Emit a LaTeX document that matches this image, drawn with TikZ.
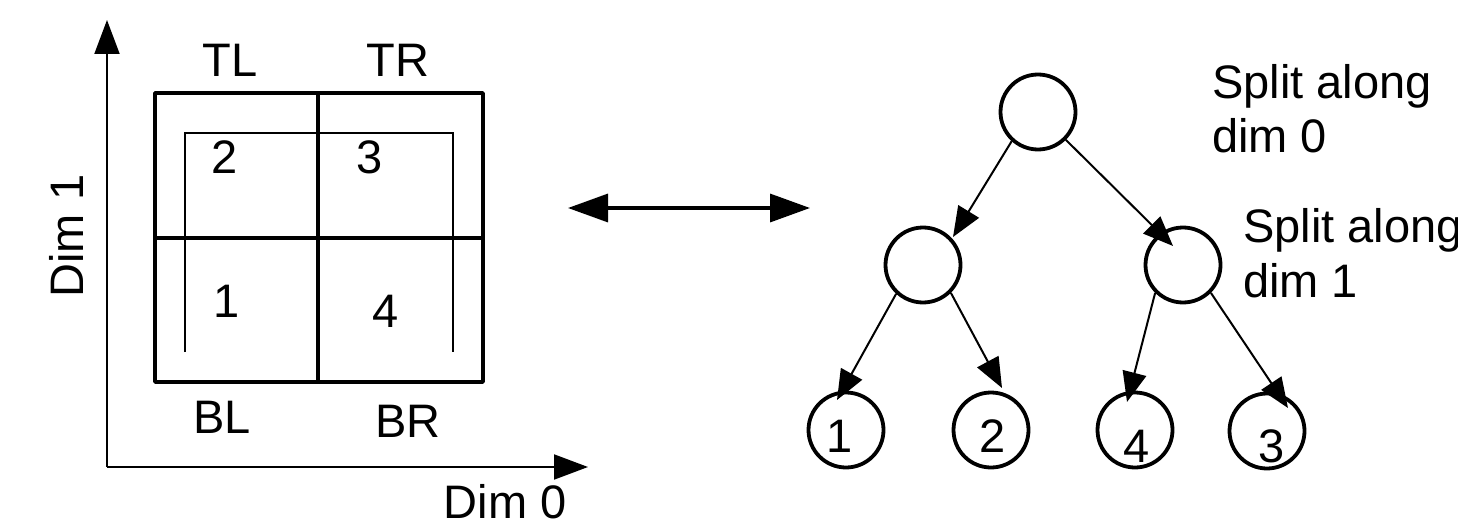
\documentclass[tikz,border=0pt]{standalone}
\usepackage{fontspec}
\setmainfont{Liberation Sans}
\usetikzlibrary{arrows.meta,calc}
\tikzset{
  lbl/.style={inner sep=0pt, anchor=base, font=\fontsize{47}{54}\selectfont},
  note/.style={inner sep=0pt, anchor=base west, align=left, font=\fontsize{47}{54.5}\selectfont},
  tnode/.style={circle, draw, line width=3.8pt, minimum size=75pt, inner sep=0pt},
  thick box/.style={line width=3.6pt, line join=round},
  thin box/.style={line width=2pt},
  axis/.style={line width=2pt, -{Triangle[length=34pt,width=25pt]}},
  edge/.style={line width=2pt, -{Triangle[length=30pt,width=24pt]}},
  bidir/.style={line width=3.4pt, {Triangle[length=40pt,width=28pt]}-{Triangle[length=40pt,width=28pt]}},
}
\begin{document}
\begin{tikzpicture}[x=1pt,y=-1pt]
\useasboundingbox (0,0) rectangle (1458,532);
% axes
\coordinate (O) at (107,467);
\coordinate (ytip) at (107,20);
\coordinate (xtip) at (588,467);
\draw[axis] (O) -- (ytip);
\draw[axis] (O) -- (xtip);
\node[lbl] (dim0) at (505,518) {Dim 0};
\node[lbl, rotate=90] (dim1) at (83,236) {Dim 1};
% grid
\draw[thick box] (155,93) rectangle (483,382);
\draw[thick box] (318,93) -- (318,382);
\draw[thick box] (155,238) -- (483,238);
\draw[thin box] (185,352) -- (185,133) -- (453,133) -- (453,352);
\node[lbl] (tl) at (230,77) {TL};
\node[lbl] (tr) at (398,77) {TR};
\node[lbl] (bl) at (222,433) {BL};
\node[lbl] (br) at (408,437) {BR};
\node[lbl] (q2) at (225,173) {2};
\node[lbl] (q3) at (370,173) {3};
\node[lbl] (q1) at (227,317) {1};
\node[lbl] (q4) at (386,327) {4};
% double arrow
\coordinate (da1) at (568,208);
\coordinate (da2) at (810,208);
\draw[bidir] (da1) -- (da2);
% tree
\node[tnode] (root) at (1038,112) {};
\node[tnode] (lc) at (923,265) {};
\node[tnode] (rc) at (1183,265) {};
\node[tnode] (l1) at (846,430) {};
\node[tnode] (l2) at (991,430) {};
\node[tnode] (l4) at (1135,430) {};
\node[tnode] (l3) at (1267,431) {};
\node[lbl] (t1) at (840,452) {1};
\node[lbl] (t2) at (993,452) {2};
\node[lbl] (t4) at (1137,462) {4};
\node[lbl] (t3) at (1272,462) {3};
\draw[edge] (root.228) -- ($(lc)+(30,-28)$);
\draw[edge] (root.315) -- ($(rc)+(-10,-19)$);
\draw[edge] (lc.227) -- ($(l1)+(-9,-30)$);
\draw[edge] (lc.315) -- ($(l2)+(11,-42)$);
\draw[edge] (rc.225) -- ($(l4)+(-8,-28)$);
\draw[edge] (rc.315) -- ($(l3)+(21,-23)$);
\node[note] (s0) at (1212,153) {Split along\\dim 0};
\node[note] (s1) at (1243,297) {Split along\\dim 1};
\end{tikzpicture}
\end{document}
